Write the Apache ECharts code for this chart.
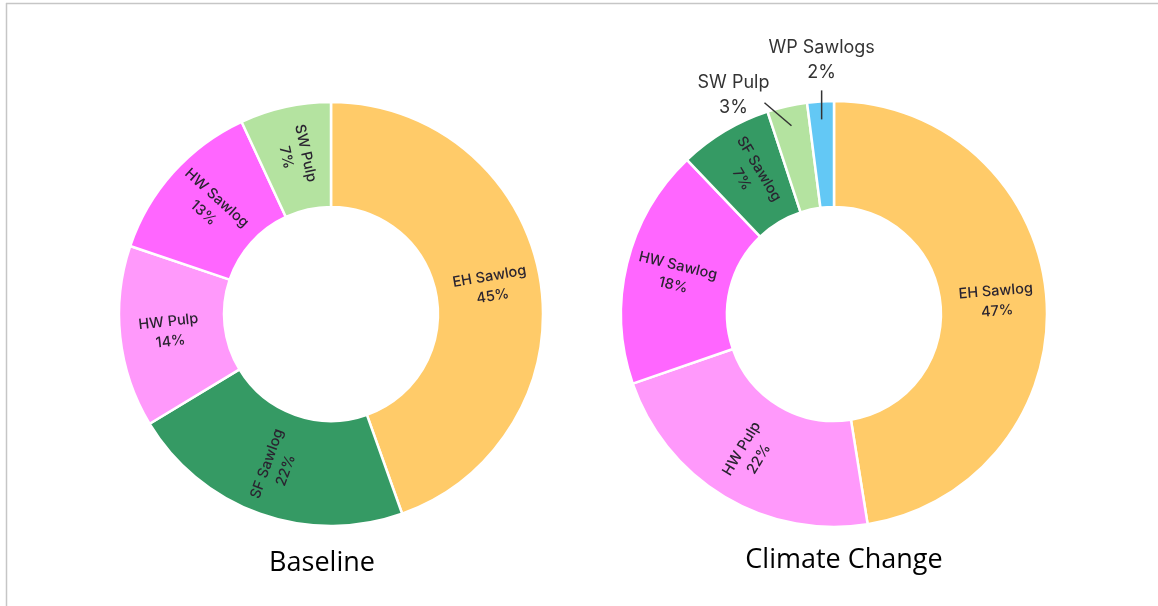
<!DOCTYPE html>
<html>
<head>
<meta charset="utf-8">
<title>Harvest product shares</title>
<script src="https://cdn.jsdelivr.net/npm/echarts@6/dist/echarts.min.js"></script>
<style>
  html, body { margin: 0; padding: 0; background: #ffffff; }
  #chart { width: 1158px; height: 606px; }
</style>
</head>
<body>
<div id="chart"></div>
<script>
// Product shares (%) under each scenario
const baselineNames = ['EH Sawlog', 'SF Sawlog', 'HW Pulp', 'HW Sawlog', 'SW Pulp'];
const baselineValues = [45, 22, 14, 13, 7];

const climateNames = ['EH Sawlog', 'HW Pulp', 'HW Sawlog', 'SF Sawlog', 'SW Pulp', 'WP Sawlogs'];
const climateValues = [47, 22, 18, 7, 3, 2];

const scenarioTitles = ['Baseline', 'Climate Change'];

// Small slices whose labels sit outside the ring
const outsideLabelled = ['SW Pulp', 'WP Sawlogs'];

// Colour per product
const productColors = {
  'EH Sawlog': '#FFCB69',
  'SF Sawlog': '#359A64',
  'HW Pulp': '#FF99FB',
  'HW Sawlog': '#FF66FF',
  'SW Pulp': '#B4E3A0',
  'WP Sawlogs': '#63C8F5'
};

// Ring geometry
const baselineCenter = [331, 314];
const baselineRadius = [107, 212];
const climateCenter = [834, 314];
const climateRadius = [107, 213];

// Leader geometry for outside labels: start inset from the rim, line vector, label offset from line end
const leaderShape = {
  'SW Pulp': { inset: 20, dx: -27, dy: -23, tx: -31, ty: -8 },
  'WP Sawlogs': { inset: 18, dx: 0, dy: -29, tx: 0, ty: -30 }
};

// Leader line for slice `index` of a clockwise ring starting at 12 o'clock
function leaderFor(names, values, center, outerR, index) {
  const shape = leaderShape[names[index]];
  if (!shape) return null;
  const total = values.reduce(function (a, b) { return a + b; }, 0);
  let before = 0;
  for (let i = 0; i < index; i++) before += values[i];
  const theta = (before + values[index] / 2) / total * Math.PI * 2;
  const ux = Math.sin(theta);
  const uy = -Math.cos(theta);
  const r = outerR - shape.inset;
  const start = [center[0] + ux * r, center[1] + uy * r];
  const end = [start[0] + shape.dx, start[1] + shape.dy];
  return { start: start, end: end, label: [end[0] + shape.tx, end[1] + shape.ty] };
}

const insideLabel = {
  show: true,
  position: 'inside',
  rotate: 'radial',
  formatter: '{b}\n{c}%',
  fontFamily: 'Inter',
  fontSize: 14.5,
  fontWeight: 500,
  lineHeight: 20,
  color: '#2a2430'
};

function buildData(names, values, outside) {
  return names.map(function (name, i) {
    const item = {
      name: name,
      value: values[i],
      itemStyle: { color: productColors[name] }
    };
    if (outside && outside.indexOf(name) >= 0) {
      item.label = {
        show: true,
        position: 'outside',
        rotate: 0,
        formatter: '{b}\n{c}%',
        fontFamily: 'Inter',
        fontSize: 18,
        fontWeight: 400,
        lineHeight: 25,
        color: '#333333',
        align: 'center'
      };
      item.labelLine = { show: false };
    }
    return item;
  });
}

const leaderGraphics = [];
climateNames.forEach(function (name, i) {
  const leader = leaderFor(climateNames, climateValues, climateCenter, climateRadius[1], i);
  if (!leader) return;
  leaderGraphics.push({
    type: 'polyline',
    silent: true,
    z: 100,
    shape: { points: [leader.start, leader.end] },
    style: { stroke: '#333333', lineWidth: 1.5, fill: null }
  });
});

const ringStyle = { borderColor: '#ffffff', borderWidth: 2.5 };

const chart = echarts.init(document.getElementById('chart'), null, { renderer: 'canvas' });

chart.setOption({
  animation: false,
  backgroundColor: '#ffffff',
  graphic: [
    { type: 'line', silent: true, shape: { x1: 6, y1: 3.5, x2: 1158, y2: 3.5 }, style: { stroke: '#c6c6c6', lineWidth: 1.5 } },
    { type: 'line', silent: true, shape: { x1: 6.5, y1: 3, x2: 6.5, y2: 606 }, style: { stroke: '#c6c6c6', lineWidth: 1.5 } },
    { type: 'text', silent: true, style: { x: 322, y: 563, text: scenarioTitles[0], align: 'center', verticalAlign: 'middle', fontFamily: 'Open Sans', fontSize: 27, fill: '#000000' } },
    { type: 'text', silent: true, style: { x: 844, y: 560, text: scenarioTitles[1], align: 'center', verticalAlign: 'middle', fontFamily: 'Open Sans', fontSize: 27, fill: '#000000' } }
  ].concat(leaderGraphics),
  series: [
    {
      type: 'pie',
      name: scenarioTitles[0],
      center: baselineCenter,
      radius: baselineRadius,
      startAngle: 90,
      clockwise: true,
      avoidLabelOverlap: false,
      silent: true,
      itemStyle: ringStyle,
      label: insideLabel,
      labelLine: { show: false },
      data: buildData(baselineNames, baselineValues, null)
    },
    {
      type: 'pie',
      name: scenarioTitles[1],
      center: climateCenter,
      radius: climateRadius,
      startAngle: 90,
      clockwise: true,
      avoidLabelOverlap: false,
      silent: true,
      itemStyle: ringStyle,
      label: insideLabel,
      labelLine: { show: false },
      labelLayout: function (params) {
        const leader = leaderFor(climateNames, climateValues, climateCenter, climateRadius[1], params.dataIndex);
        if (!leader) return {};
        return { x: leader.label[0], y: leader.label[1], align: 'center', verticalAlign: 'middle' };
      },
      data: buildData(climateNames, climateValues, outsideLabelled)
    }
  ]
});
</script>
</body>
</html>
